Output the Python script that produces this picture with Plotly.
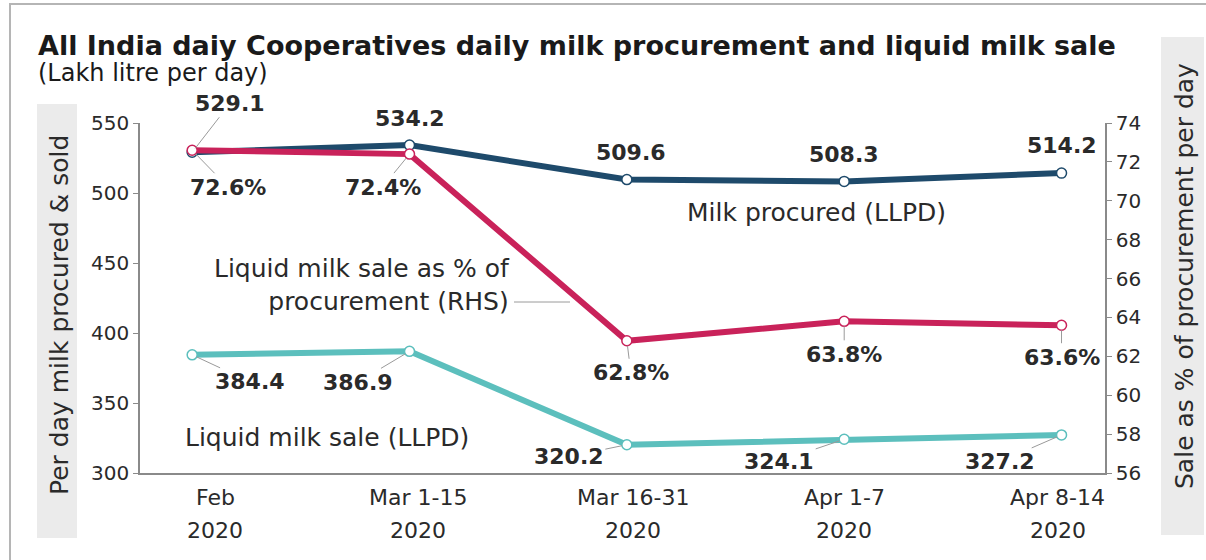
import plotly.graph_objects as go

# ---------------- data ----------------
periods = ["Feb", "Mar 1-15", "Mar 16-31", "Apr 1-7", "Apr 8-14"]
years = ["2020", "2020", "2020", "2020", "2020"]
milk_procured = [529.1, 534.2, 509.6, 508.3, 514.2]
liquid_sale = [384.4, 386.9, 320.2, 324.1, 327.2]
sale_pct = [72.6, 72.4, 62.8, 63.8, 63.6]
left_ticks = [300, 350, 400, 450, 500, 550]
right_ticks = [56, 58, 60, 62, 64, 66, 68, 70, 72, 74]

# ---------------- layout constants ----------------
W, H = 1206, 560
ML, MR, MT, MB = 140, 101, 123, 87
PW, PH = W - ML - MR, H - MT - MB
FONT = "DejaVu Sans"
C_PROC = "#1e4a6b"
C_SALE = "#5cbfbd"
C_PCT = "#c9225a"
TXT = "#2a2a2a"


def px(x):
    return (x - ML) / PW


def py(y):
    return (H - MB - y) / PH


xs = list(range(len(periods)))

fig = go.Figure()

fig.add_trace(go.Scatter(x=xs, y=milk_procured, mode="lines+markers", name="Milk procured",
                         line=dict(color=C_PROC, width=6),
                         marker=dict(size=10, color="white", line=dict(width=1.5, color=C_PROC)),
                         yaxis="y"))
fig.add_trace(go.Scatter(x=xs, y=liquid_sale, mode="lines+markers", name="Liquid milk sale",
                         line=dict(color=C_SALE, width=6),
                         marker=dict(size=10, color="white", line=dict(width=1.5, color=C_SALE)),
                         yaxis="y"))
fig.add_trace(go.Scatter(x=xs, y=sale_pct, mode="lines+markers", name="Sale %",
                         line=dict(color=C_PCT, width=6),
                         marker=dict(size=10, color="white", line=dict(width=1.5, color=C_PCT)),
                         yaxis="y2"))

annotations = []
LBL = 22
NAME = 25
# label offsets (pixels): procured above, pct below, sale below
proc_off = [(38, -49), (0, -27), (4, -27), (0, -27), (0, -28)]
pct_off = [(36, 37), (-27, 33), (4, 32), (0, 33), (0, 32)]
sale_off = [(58, 27), (-52, 31), (-58, 12), (-65, 22), (-62, 27)]
proc_arrow = [True, False, False, False, False]

for i, v in enumerate(milk_procured):
    ax, ay = proc_off[i]
    annotations.append(dict(x=xs[i], y=v, xref="x", yref="y", text=f"<b>{v:.1f}</b>",
                            showarrow=True, ax=ax, ay=ay, arrowhead=0, arrowwidth=1,
                            arrowcolor="#9a9a9a" if proc_arrow[i] else "rgba(0,0,0,0)",
                            standoff=5, font=dict(family=FONT, size=LBL, color=TXT)))
for i, v in enumerate(sale_pct):
    ax, ay = pct_off[i]
    annotations.append(dict(x=xs[i], y=v, xref="x", yref="y2", text=f"<b>{v:.1f}%</b>",
                            showarrow=True, ax=ax, ay=ay, arrowhead=0, arrowwidth=1,
                            arrowcolor="#9a9a9a", standoff=5,
                            font=dict(family=FONT, size=LBL, color=TXT)))
for i, v in enumerate(liquid_sale):
    ax, ay = sale_off[i]
    annotations.append(dict(x=xs[i], y=v, xref="x", yref="y", text=f"<b>{v:.1f}</b>",
                            showarrow=True, ax=ax, ay=ay, arrowhead=0, arrowwidth=1,
                            arrowcolor="#9a9a9a", standoff=5,
                            font=dict(family=FONT, size=LBL, color=TXT)))

# x-axis category labels (two rows)
x_shift = [23, 8, 6, 0, -4]
for i in xs:
    annotations.append(dict(x=xs[i], y=py(497), xref="x", yref="paper", yanchor="middle",
                            text=periods[i], xshift=x_shift[i], showarrow=False,
                            font=dict(family=FONT, size=22, color=TXT)))
    annotations.append(dict(x=xs[i], y=py(530), xref="x", yref="paper", yanchor="middle",
                            text=years[i], xshift=x_shift[i], showarrow=False,
                            font=dict(family=FONT, size=22, color=TXT)))

# title / subtitle
annotations.append(dict(x=px(36), y=py(45), xref="paper", yref="paper", xanchor="left", yanchor="middle",
                        text="<b>All India daiy Cooperatives daily milk procurement and liquid milk sale</b>",
                        showarrow=False, font=dict(family=FONT, size=27, color="#1a1a1a")))
annotations.append(dict(x=px(36), y=py(73), xref="paper", yref="paper", xanchor="left", yanchor="middle",
                        text="(Lakh litre per day)", showarrow=False,
                        font=dict(family=FONT, size=24, color="#1a1a1a")))
# series names
annotations.append(dict(x=px(816), y=py(212), xref="paper", yref="paper", xanchor="center",
                        yanchor="middle", text="Milk procured (LLPD)",
                        showarrow=False, font=dict(family=FONT, size=NAME, color=TXT)))
annotations.append(dict(x=px(512), y=py(285), xref="paper", yref="paper", xanchor="right", yanchor="middle",
                        align="right", text="Liquid milk sale as % of<br>procurement (RHS)", showarrow=False,
                        font=dict(family=FONT, size=NAME, color=TXT)))
annotations.append(dict(x=px(183), y=py(437), xref="paper", yref="paper", xanchor="left", yanchor="middle",
                        text="Liquid milk sale (LLPD)", showarrow=False,
                        font=dict(family=FONT, size=NAME, color=TXT)))
# axis titles
annotations.append(dict(x=px(59), y=py(315), xref="paper", yref="paper", textangle=-90,
                        xanchor="center", yanchor="middle",
                        text="Per day milk procured &amp; sold", showarrow=False,
                        font=dict(family=FONT, size=25, color=TXT)))
annotations.append(dict(x=px(1184), y=py(276), xref="paper", yref="paper", textangle=-90,
                        xanchor="center", yanchor="middle",
                        text="Sale as % of procurement per day", showarrow=False,
                        font=dict(family=FONT, size=25, color=TXT)))

shapes = [
    dict(type="rect", xref="paper", yref="paper", x0=px(10), x1=px(1230), y0=py(4), y1=py(600),
         line=dict(color="#b5b5b5", width=2), layer="below"),
    dict(type="rect", xref="paper", yref="paper", x0=px(37), x1=px(77), y0=py(104), y1=py(538),
         fillcolor="#ebebeb", line=dict(width=0), layer="below"),
    dict(type="rect", xref="paper", yref="paper", x0=px(1161), x1=px(1204), y0=py(37), y1=py(535),
         fillcolor="#ebebeb", line=dict(width=0), layer="below"),
    dict(type="line", xref="paper", yref="paper", x0=px(514), x1=px(570), y0=py(302), y1=py(302),
         line=dict(color="#9a9a9a", width=1)),
]

fig.update_layout(
    width=W, height=H,
    margin=dict(l=ML, r=MR, t=MT, b=MB),
    paper_bgcolor="white", plot_bgcolor="white",
    showlegend=False,
    font=dict(family=FONT, color=TXT),
    xaxis=dict(range=[-0.24, 4.2], tickvals=xs, showticklabels=False, showgrid=False, zeroline=False,
               showline=True, linecolor="#8a8a8a", linewidth=1.5, ticks=""),
    yaxis=dict(range=[300, 550], tickvals=left_ticks, showgrid=False, zeroline=False,
               showline=True, linecolor="#8a8a8a", linewidth=1.5, ticks="outside", ticklen=5,
               tickcolor="#8a8a8a", tickfont=dict(family=FONT, size=20, color=TXT)),
    yaxis2=dict(range=[56, 74], tickvals=right_ticks, overlaying="y", side="right", showgrid=False,
                zeroline=False, showline=True, linecolor="#8a8a8a", linewidth=1.5, ticks="outside",
                ticklen=5, tickcolor="#8a8a8a", tickfont=dict(family=FONT, size=20, color=TXT)),
    annotations=annotations,
    shapes=shapes,
)

fig.write_html("out.html")
